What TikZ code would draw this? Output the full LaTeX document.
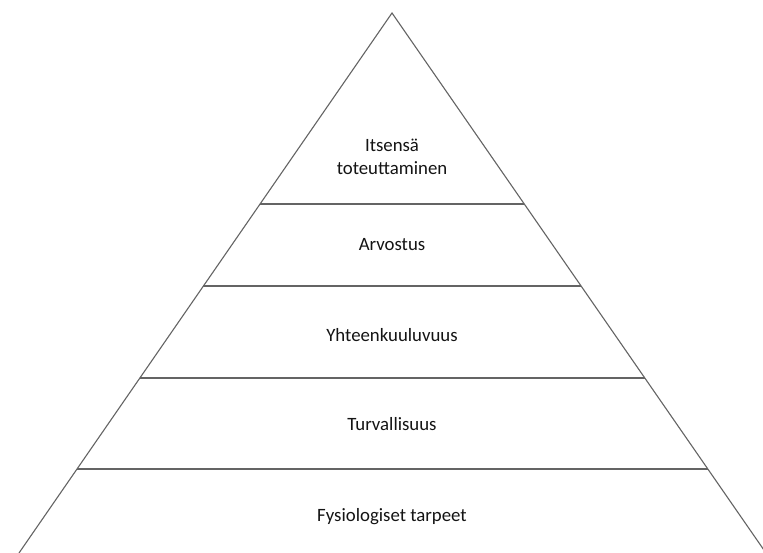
\documentclass[tikz,border=0pt]{standalone}
\usepackage{fontspec}
\setmainfont{Carlito}
\usetikzlibrary{calc}
\definecolor{edge}{RGB}{100,100,100}
\definecolor{txt}{RGB}{20,20,20}
\begin{document}
\begin{tikzpicture}[x=1pt,y=-1pt,
  edgeline/.style={draw=edge,line width=1.1pt},
  label/.style={text=txt,font=\fontsize{18.8}{23}\selectfont,align=center,inner sep=0pt}]
\useasboundingbox[fill=white] (0,0) rectangle (763,553);
\coordinate (apex) at (392,13);
\coordinate (bl) at (19,553);
\coordinate (br) at (766,553);
\draw[edgeline] (bl) -- (apex) -- (br);
\foreach \t/\n in {0.3537/a,0.5056/b,0.6759/c,0.8444/d}{
  \coordinate (l\n) at ($(apex)!\t!(bl)$);
  \coordinate (r\n) at ($(apex)!\t!(br)$);
  \draw[edgeline] (l\n) -- (r\n);
}
\node[label] (n1) at (392,157) {Itsensä\\toteuttaminen};
\node[label] (n2) at (392,245) {Arvostus};
\node[label] (n3) at (392,335) {Yhteenkuuluvuus};
\node[label] (n4) at (392,424) {Turvallisuus};
\node[label] (n5) at (392,517) {Fysiologiset tarpeet};
\end{tikzpicture}
\end{document}
